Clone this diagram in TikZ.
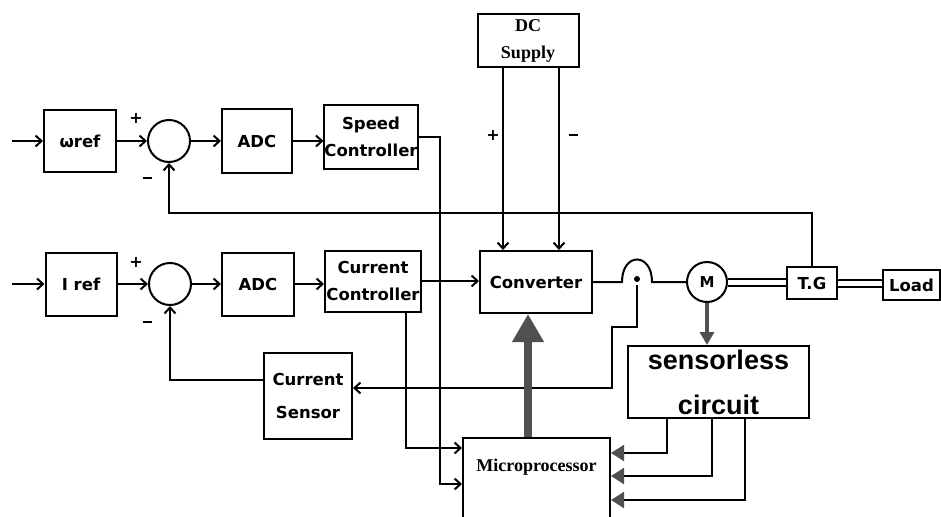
\documentclass[tikz,border=0pt]{standalone}
\usepackage{fontspec}
\usetikzlibrary{arrows.meta, positioning, calc}
\newfontfamily\blkfont{DejaVu Sans}
\newfontfamily\supfont{Liberation Serif}
\newfontfamily\slfont{Liberation Sans}
\definecolor{darkgrey}{HTML}{505050}
\newcommand{\minusbar}{\rule{9pt}{2.6pt}}
\tikzset{
  blk/.style={draw, line width=2pt, inner sep=0pt, align=center,
    font=\blkfont\bfseries\fontsize{16.5}{27}\selectfont},
  sumj/.style={draw, circle, line width=2pt, minimum size=42pt, inner sep=0pt},
  wire/.style={line width=2pt},
  shaft/.style={line width=2pt, double=white, double distance=5pt},
  sign/.style={font=\blkfont\bfseries\fontsize{16}{16}\selectfont, inner sep=0pt},
  fedtip/.style={-{Triangle[length=13pt,width=16pt,color=darkgrey]}},
  bigarrow/.style={draw=darkgrey, line width=8pt, -{Triangle[length=28pt,width=30pt]}},
}

\begin{document}
\begin{tikzpicture}[x=1pt, y=-1pt, >={Straight Barb[length=6pt,width=11pt]}]
    \useasboundingbox (0,0) rectangle (941,516);
    \clip (0,0) rectangle (941,516);

    % speed loop
    \coordinate (in1) at (12,141);
    \node[blk, minimum width=72pt, minimum height=61pt] (wref) at (80,141) {ωref};
    \node[sumj] (sum1) at (169,141) {};
    \node[blk, minimum width=70pt, minimum height=63pt] (adc1) at (257,141) {ADC};
    \node[blk, minimum width=93pt, minimum height=63pt] (spd) at (371,137) {Speed\\Controller};
    \node[sign] (p1) at (136,118) {+};
    \node[sign] (m1) at (147,178) {\minusbar};

    % current loop
    \coordinate (in2) at (12,284);
    \node[blk, minimum width=71pt, minimum height=63pt] (iref) at (81,284) {I ref};
    \node[sumj] (sum2) at (170,284) {};
    \node[blk, minimum width=72pt, minimum height=63pt] (adc2) at (258,284) {ADC};
    \node[blk, minimum width=96pt, minimum height=61pt] (cur) at (373,281) {Current\\Controller};
    \node[sign] (p2) at (136,262) {+};
    \node[sign] (m2) at (147,322) {\minusbar};
    \node[blk, minimum width=88pt, minimum height=86pt] (csens) at (308,396) {Current\\[6pt]Sensor};

    % power stage
    \node[blk, minimum width=101pt, minimum height=53pt,
      font=\supfont\bfseries\fontsize{18}{27}\selectfont] (dc) at (528,41) {DC\\Supply};
    \node[blk, minimum width=112pt, minimum height=62pt] (conv) at (536,282) {Converter};
    \node[sumj, minimum size=40pt, font=\blkfont\bfseries\fontsize{15}{15}\selectfont] (mot) at (707,282) {M};
    \node[blk, minimum width=50pt, minimum height=32pt] (tg) at (812,283) {T.G};
    \node[blk, minimum width=57pt, minimum height=30pt] (load) at (911.5,285) {Load};
    \node[blk, minimum width=181pt, minimum height=72pt,
      font=\slfont\bfseries\fontsize{27}{45}\selectfont] (sless) at (718.5,382) {sensorless\\circuit};
    \node[blk, minimum width=147pt, minimum height=140pt, anchor=north] (mproc) at (536.5,437) {};
    \node[font=\supfont\bfseries\fontsize{18}{18}\selectfont] (mplabel) at (536.5,467) {Microprocessor};
    \node[sign] (p3) at (493,135) {+};
    \node[sign] (m3) at (573,135) {\rule{9pt}{1.8pt}};

    % forward paths
    \draw[wire,->] (in1) -- (wref.west);
    \draw[wire,->] (wref.east) -- (sum1.west);
    \draw[wire,->] (sum1.east) -- (adc1.west);
    \draw[wire,->] (adc1.east) -- (adc1.east -| spd.west);
    \draw[wire,->] (in2) -- (iref.west);
    \draw[wire,->] (iref.east) -- (sum2.west);
    \draw[wire,->] (sum2.east) -- (adc2.west);
    \draw[wire,->] (adc2.east) -- (adc2.east -| cur.west);
    \draw[wire,->] (cur.east) -- (cur.east -| conv.west);

    % controller outputs to the microprocessor
    \coordinate (sc) at (440,484);
    \coordinate (cc) at (406,448);
    \draw[wire,->] (spd.east) -| (sc) -- (sc -| mproc.west);
    \draw[wire,->] (cur.south -| cc) -- (cc) -- (cc -| mproc.west);

    % feedbacks
    \coordinate (fb1) at (169,213);
    \coordinate (fb2) at (170,380);
    \draw[wire,->] (tg.north) |- (fb1) -- (sum1.south);
    \draw[wire,->] (fb2 -| csens.west) -- (fb2) -- (sum2.south);

    % supply
    \coordinate (dcp) at (503,0);
    \coordinate (dcm) at (559,0);
    \draw[wire,->] (dc.south -| dcp) -- (conv.north -| dcp);
    \draw[wire,->] (dc.south -| dcm) -- (conv.north -| dcm);

    % converter to motor, with the jump
    \coordinate (hl) at (622,282);
    \coordinate (hr) at (652,282);
    \coordinate (dot) at (637,279);
    \draw[wire] (conv.east) -- (hl) .. controls (622,252) and (652,252) .. (hr) -- (mot.west);
    \fill (dot) circle (3pt);
    \coordinate (j1) at (637,327);
    \coordinate (j2) at (612,388);
    \draw[wire,->] ([yshift=-6pt]dot) -- (j1) -| (j2) -- (j2 -| csens.east);

    % shafts
    \draw[shaft] (mot.east) -- (mot.east -| tg.west);
    \draw[shaft] (tg.east) -- (tg.east -| load.west);

    % motor to sensorless circuit
    \draw[darkgrey, line width=4pt, -{Triangle[length=13pt,width=14pt]}] (mot.south) -- (mot.south |- sless.north);

    % sensorless outputs
    \foreach \xx/\yy in {667/453, 712/476, 745/500}
      \draw[wire, fedtip] (sless.south -| \xx,0) |- (mproc.east |- 0,\yy);

    % command to converter
    \draw[bigarrow] (mproc.north -| 528,0) -- (conv.south -| 528,0);
\end{tikzpicture}
\end{document}
